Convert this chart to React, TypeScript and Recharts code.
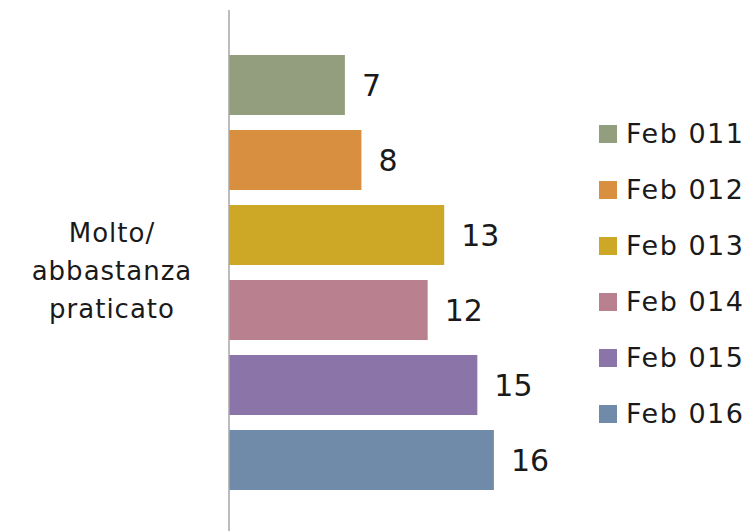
import { BarChart, Bar, XAxis, YAxis, LabelList } from "recharts";

// one category, six yearly series
const categories = ["Molto/ abbastanza praticato"];
const seriesNames = ["Feb 011", "Feb 012", "Feb 013", "Feb 014", "Feb 015", "Feb 016"];
const seriesValues = [7, 8, 13, 12, 15, 16];
const colors = ["#929e7e", "#d89040", "#cda826", "#b98090", "#8a74a8", "#708aaa"];

const FONT = "'DejaVu Sans', sans-serif";

const data = categories.map((name) => {
  const row: any = { name };
  seriesValues.forEach((v, i) => {
    row[`s${i}`] = v;
  });
  return row;
});

function CategoryTick(props: any) {
  const { y } = props;
  const lines = ["Molto/", "abbastanza", "praticato"];
  return (
    <g>
      {lines.map((line, i) => (
        <text
          key={line}
          x={112}
          y={y + (i - 1) * 38 - 1}
          dy="0.36em"
          textAnchor="middle"
          fontSize={26}
          fontFamily={FONT}
          letterSpacing={1}
          fill="#1a1a1a"
        >
          {line}
        </text>
      ))}
    </g>
  );
}

export default function App() {
  return (
    <div style={{ position: "absolute", left: 0, top: 0, width: 754, height: 531, background: "#fff", overflow: "hidden" }}>
      <BarChart
        width={754}
        height={531}
        data={data}
        layout="vertical"
        barSize={60}
        barGap={15}
        margin={{ top: 10, right: 227, bottom: -3, left: 0 }}
      >
        <XAxis type="number" domain={[0, 18]} hide />
        <YAxis
          type="category"
          dataKey="name"
          width={229}
          tickLine={false}
          axisLine={{ stroke: "#a6a6a6", strokeWidth: 1.5 }}
          tick={<CategoryTick />}
        />
        {seriesNames.map((s, i) => (
          <Bar key={s} dataKey={`s${i}`} name={s} fill={colors[i]} isAnimationActive={false}>
            <LabelList
              dataKey={`s${i}`}
              position="right"
              offset={17}
              fontSize={30}
              fontFamily={FONT}
              fill="#1a1a1a"
            />
          </Bar>
        ))}
      </BarChart>
      <div style={{ position: "absolute", left: 599, top: 106, fontFamily: FONT }}>
        {seriesNames.map((s, i) => (
          <div key={s} style={{ display: "flex", alignItems: "center", height: 56 }}>
            <span style={{ display: "inline-block", width: 18, height: 18, background: colors[i], marginRight: 9 }} />
            <span style={{ fontSize: 27, color: "#1a1a1a", lineHeight: "28px", letterSpacing: 1.5 }}>{s}</span>
          </div>
        ))}
      </div>
    </div>
  );
}
